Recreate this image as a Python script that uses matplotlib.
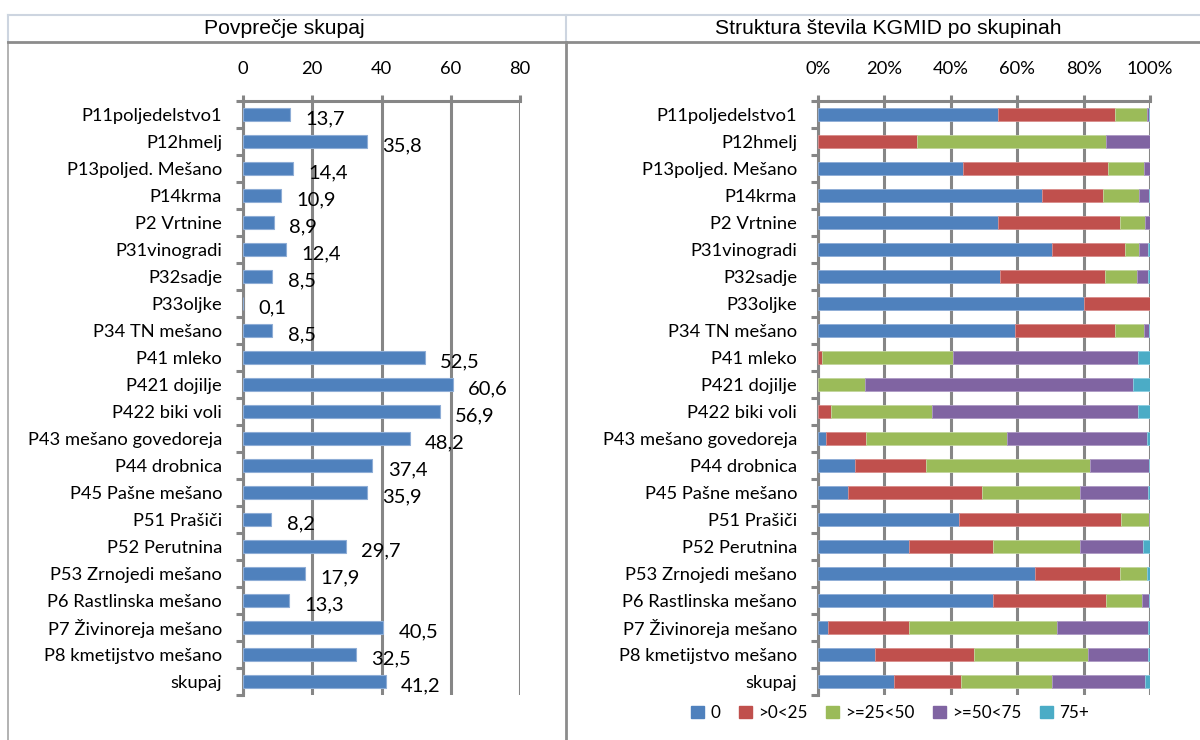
import matplotlib
matplotlib.use("Agg")
import matplotlib.pyplot as plt
from matplotlib.lines import Line2D
from matplotlib.patches import Patch
import numpy as np

# ---- data -------------------------------------------------------------
categories = ["P11poljedelstvo1", "P12hmelj", "P13poljed. Mešano", "P14krma",
              "P2 Vrtnine", "P31vinogradi", "P32sadje", "P33oljke",
              "P34 TN mešano", "P41 mleko", "P421 dojilje", "P422 biki voli",
              "P43 mešano govedoreja", "P44 drobnica", "P45 Pašne mešano",
              "P51 Prašiči", "P52 Perutnina", "P53 Zrnojedi mešano",
              "P6 Rastlinska mešano", "P7 Živinoreja mešano",
              "P8 kmetijstvo mešano", "skupaj"]

avg_values = [13.7, 35.8, 14.4, 10.9, 8.9, 12.4, 8.5, 0.1, 8.5, 52.5, 60.6,
              56.9, 48.2, 37.4, 35.9, 8.2, 29.7, 17.9, 13.3, 40.5, 32.5, 41.2]

share_0 = [54.2, 0, 43.6, 67.5, 54.2, 70.5, 54.8, 80.2, 59.4, 0, 0, 0, 2.4,
           11.0, 9.0, 42.5, 27.3, 65.5, 52.7, 2.9, 17.1, 22.8]
share_0_25 = [35.2, 29.8, 43.7, 18.3, 36.7, 21.9, 31.6, 19.8, 30.0, 1.3, 0,
              3.8, 12.2, 21.4, 40.5, 48.7, 25.4, 25.4, 34.0, 24.4, 30.0, 20.2]
share_25_50 = [9.7, 57.0, 10.8, 10.8, 7.7, 4.2, 9.7, 0, 8.7, 39.3, 14.1, 30.6,
               42.3, 49.5, 29.4, 8.4, 26.2, 8.2, 10.9, 44.8, 34.1, 27.6]
share_50_75 = [0.6, 13.2, 1.9, 3.2, 1.4, 2.9, 3.4, 0, 1.6, 55.9, 80.8, 62.1,
               42.2, 17.8, 20.6, 0.4, 19.1, 0, 2.2, 27.4, 18.3, 28.0]
share_75 = [0.3, 0, 0, 0.2, 0, 0.5, 0.5, 0, 0.3, 3.5, 5.1, 3.5, 0.9, 0.3, 0.5,
            0, 2.0, 0.9, 0.2, 0.5, 0.5, 1.4]

series_labels = ["0", ">0<25", ">=25<50", ">=50<75", "75+"]
avg_ticks = [0, 20, 40, 60, 80]
pct_ticks = [0, 20, 40, 60, 80, 100]

left_title = "Povprečje skupaj"
right_title = "Struktura števila KGMID po skupinah"

# ---- style ------------------------------------------------------------
FONT = ["Lato", "DejaVu Sans"]
TITLE_FONT = ["Liberation Sans", "DejaVu Sans"]
plt.rcParams["font.family"] = FONT
colors = ["#4F81BD", "#C0504D", "#9BBB59", "#8064A2", "#4BACC6"]
edges = ["#8EADD6", "#D88C8A", "#C2D69C", "#AC98C4", "#8ACDE0"]
GRID = "#868686"
LBL = 13.2
W, H = 1200, 740

fig = plt.figure(figsize=(W / 100, H / 100), dpi=100)

def fx(px):
    return px / W

def fy(py):
    return 1 - py / H

# panel frames
frame_light = "#CDD5E0"
frame_dark = "#8C8C8C"
fig.add_artist(Line2D([fx(8), 1], [fy(15), fy(15)], color=frame_light, lw=1.5))
fig.add_artist(Line2D([fx(8), fx(8)], [fy(15), fy(42)], color=frame_light, lw=1.5))
fig.add_artist(Line2D([fx(566), fx(566)], [fy(15), fy(42)], color=frame_light, lw=1.5))
fig.add_artist(Line2D([fx(8), fx(8)], [fy(42), 0], color="#A6A6A6", lw=1.2))
fig.add_artist(Line2D([fx(8), 1], [fy(42), fy(42)], color=frame_dark, lw=2))
fig.add_artist(Line2D([fx(566), fx(566)], [fy(42), 0], color=frame_dark, lw=2))

fig.text(fx(284), fy(29), left_title, ha="center", va="center",
         fontsize=15.2, family=TITLE_FONT)
fig.text(fx(888), fy(29), right_title, ha="center", va="center",
         fontsize=15.2, family=TITLE_FONT)

n = len(categories)
y = np.arange(n)
bar_h = 0.45

def setup_axis(ax, xmax, ticks, ticklabels):
    ax.set_xlim(0, xmax)
    ax.set_ylim(n - 0.5, -0.5)
    ax.xaxis.tick_top()
    ax.set_xticks(ticks)
    ax.set_xticklabels(ticklabels, fontsize=LBL)
    ax.tick_params(axis="x", direction="out", length=4, width=2.2,
                   color=GRID, pad=13)
    ax.set_yticks(np.arange(n + 1) - 0.5)
    ax.set_yticklabels([])
    ax.set_yticks(y, minor=True)
    ax.set_yticklabels(categories, minor=True, fontsize=LBL)
    ax.tick_params(axis="y", which="major", direction="out", length=5,
                   width=2.2, color=GRID)
    ax.tick_params(axis="y", which="minor", length=0, pad=15)
    for s in ["right", "bottom"]:
        ax.spines[s].set_visible(False)
    for s in ["left", "top"]:
        ax.spines[s].set_color(GRID)
        ax.spines[s].set_linewidth(2.2)
    ax.grid(axis="x", color=GRID, lw=2.2)
    ax.set_axisbelow(True)

# ---- left: average per group -----------------------------------------
axl = fig.add_axes([fx(243), fy(695), fx(520 - 243), (695 - 101) / H])
axl.barh(y, avg_values, height=bar_h, color=colors[0], edgecolor=edges[0],
         linewidth=0.8, zorder=3)
setup_axis(axl, 80, avg_ticks, [str(t) for t in avg_ticks])
for yi, v in zip(y, avg_values):
    axl.annotate(f"{v:.1f}".replace(".", ","), xy=(v, yi),
                 xytext=(11, -3.3), textcoords="offset points",
                 ha="left", va="center", fontsize=14.5, zorder=4)

# ---- right: structure, 100 % stacked ---------------------------------
axr = fig.add_axes([fx(818), fy(695), fx(1150 - 818), (695 - 101) / H])
series = [share_0, share_0_25, share_25_50, share_50_75, share_75]
left = np.zeros(n)
for vals, c, e in zip(series, colors, edges):
    vals = np.asarray(vals, dtype=float)
    axr.barh(y, vals, left=left, height=bar_h, color=c, edgecolor=e,
             linewidth=0.6, zorder=3)
    left += vals
setup_axis(axr, 100, pct_ticks, [f"{t}%" for t in pct_ticks])

handles = [Patch(facecolor=c, edgecolor=c) for c in colors]
fig.legend(handles, series_labels, loc="center", ncol=5,
           bbox_to_anchor=(fx(890), fy(713)), frameon=False, fontsize=12.3,
           handlelength=0.75, handleheight=0.75, handletextpad=0.35,
           columnspacing=1.1)

fig.savefig("out.png", dpi=100)
